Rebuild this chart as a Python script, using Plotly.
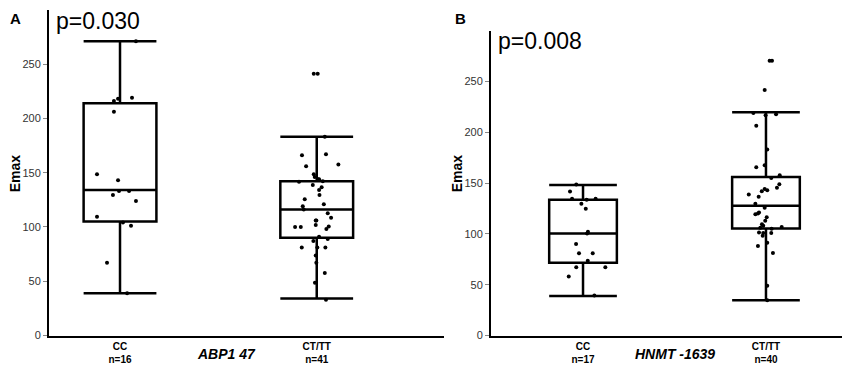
import plotly.graph_objects as go

W, H = 850, 366

# ---------------- data ----------------
categories = ["CC", "CT/TT"]
tick_text_A = ["CC<br>n=16", "CT/TT<br>n=41"]
tick_text_B = ["CC<br>n=17", "CT/TT<br>n=40"]
y_ticks = [0, 50, 100, 150, 200, 250]

# box stats: [lower whisker, Q1, median, Q3, upper whisker]
stats_A_CC = [39, 105, 134, 214, 271]
stats_A_CT = [34, 90, 116, 142, 183]
stats_B_CC = [39, 71.5, 100.3, 133.5, 148]
stats_B_CT = [34.6, 105.4, 127.7, 156, 219.6]

# individual points (Emax) and their horizontal jitter (category units)
A_CC_vals = [271, 216, 218, 219, 206, 148.5, 143, 133, 133, 129.5, 124, 109.5, 104, 101, 67, 39]
A_CC_jit = [0.081, -0.031, -0.010, 0.061, -0.031, -0.117, -0.010, -0.005, 0.046, -0.036,
            0.081, -0.117, 0.015, 0.056, -0.066, 0.036]

A_CT_vals = [241, 241, 183, 166, 167, 156, 157.6, 148.5, 146, 144, 144, 141.6, 142, 138.6,
             136.5, 134, 129.5, 125.6, 121, 119, 116, 112.6, 108.4, 106, 106, 101.7, 100.5,
             100, 100, 98, 91, 89, 87, 81, 81, 81, 73.6, 67, 57.7, 48.6, 33]
A_CT_jit = [-0.015, 0.005, 0.041, -0.075, 0.047, -0.054, 0.110, -0.015, -0.010, 0.007, 0.012,
            -0.090, 0.031, -0.020, 0.025, 0.012, 0.014, -0.061, 0.036, -0.071, -0.066, 0.056,
            0.073, -0.002, -0.005, -0.005, 0.061, -0.110, -0.081, 0.049, 0.012, 0.056, -0.017,
            -0.076, 0.003, 0.044, -0.005, -0.002, 0.041, -0.009, 0.047]

B_CC_vals = [148.7, 141.6, 134.5, 133.5, 134.5, 129.7, 124.8, 102.2, 100.3, 90, 81, 81, 73.7,
             67.3, 67.3, 58.2, 39.5]
B_CC_jit = [-0.037, -0.071, -0.060, 0.020, 0.069, -0.009, 0.015, 0.027, 0.022, -0.038, -0.022,
            0.053, 0.026, -0.037, 0.122, -0.078, 0.062]

B_CT_vals = [270.3, 270.3, 241.5, 219, 216.7, 217.6, 206.3, 183, 167.5, 165.6, 157.8, 155,
             148.8, 145.5, 144.2, 142.9, 142, 138.7, 136.5, 129.7, 125.8, 121, 120, 119.3,
             116.4, 112.9, 109.6, 108, 106, 106.7, 105, 101.3, 101, 101, 98.3, 88, 91.2, 81.2,
             48.9, 34.6]
B_CT_jit = [0.020, 0.033, -0.007, -0.069, -0.002, 0.055, -0.053, 0.007, -0.007, -0.053, 0.075,
            0.029, 0.073, 0.060, -0.007, 0.007, -0.023, -0.094, -0.040, -0.058, -0.007, -0.038,
            -0.044, -0.058, 0.004, -0.004, -0.022, -0.015, -0.031, 0.086, 0.031, -0.038, -0.015,
            0.029, -0.018, -0.044, 0.007, 0.038, 0.007, 0.007]

# ---------------- figure ----------------
FONT = "Arial, Liberation Sans, sans-serif"
fig = go.Figure()


def add_box(stats, pos, xa, ya):
    lo, q1, med, q3, hi = stats
    fig.add_trace(go.Box(
        x=[pos], q1=[q1], median=[med], q3=[q3], lowerfence=[lo], upperfence=[hi],
        width=0.37, whiskerwidth=1, boxpoints=False,
        line=dict(color="black", width=2.5), fillcolor="rgba(255,255,255,0)",
        xaxis=xa, yaxis=ya, showlegend=False, hoverinfo="skip"))


def add_points(vals, jit, pos, xa, ya):
    fig.add_trace(go.Scatter(
        x=[pos + j for j in jit], y=vals, mode="markers",
        marker=dict(color="black", size=4),
        xaxis=xa, yaxis=ya, showlegend=False, hoverinfo="skip"))


add_box(stats_A_CC, 0, "x", "y")
add_box(stats_A_CT, 1, "x", "y")
add_box(stats_B_CC, 0, "x2", "y2")
add_box(stats_B_CT, 1, "x2", "y2")
add_points(A_CC_vals, A_CC_jit, 0, "x", "y")
add_points(A_CT_vals, A_CT_jit, 1, "x", "y")
add_points(B_CC_vals, B_CC_jit, 0, "x2", "y2")
add_points(B_CT_vals, B_CT_jit, 1, "x2", "y2")

xcommon = dict(showgrid=False, zeroline=False, showline=True, linecolor="black", linewidth=2,
               ticks="", tickfont=dict(family=FONT, size=10, color="black"), fixedrange=True)
ycommon = dict(showgrid=False, zeroline=False, showline=True, linecolor="black", linewidth=2,
               ticks="outside", ticklen=4, tickcolor="#888", tickwidth=1,
               tickvals=y_ticks, tickfont=dict(family=FONT, size=11, color="#333"),
               range=[0, 300], fixedrange=True)


def bold_lines(t):
    return "<b>" + t.replace("<br>", "</b><br><b>") + "</b>"


fig.update_layout(
    width=W, height=H, margin=dict(l=0, r=0, t=0, b=0),
    paper_bgcolor="white", plot_bgcolor="white",
    xaxis=dict(xcommon, domain=[41 / W, 436 / W], range=[-0.361, 1.647],
               tickvals=[0, 1], ticktext=[bold_lines(t) for t in tick_text_A], anchor="y"),
    yaxis=dict(ycommon, domain=[1 - 333 / H, 1 - 1.8 / H], anchor="x"),
    xaxis2=dict(xcommon, domain=[483 / W, 1.0], range=[-0.503, 1.503],
                tickvals=[0, 1], ticktext=[bold_lines(t) for t in tick_text_B], anchor="y2"),
    yaxis2=dict(ycommon, domain=[1 - 333 / H, 1 - 23 / H], anchor="x2"),
)


def ann(text, px, py, size, bold=False, italic=False, angle=0, xanchor="center"):
    t = text
    if bold:
        t = "<b>" + t + "</b>"
    if italic:
        t = "<i>" + t + "</i>"
    fig.add_annotation(text=t, x=px / W, y=1 - py / H, xref="paper", yref="paper",
                       showarrow=False, xanchor=xanchor, yanchor="middle", textangle=angle,
                       font=dict(family=FONT, size=size, color="black"))


ann("A", 8, 11, 15, bold=True)
ann("B", 452, 11, 15, bold=True)
ann("p=0.030", 46, 13, 23, xanchor="left")
ann("p=0.008", 488, 34, 23, xanchor="left")
ann("Emax", 7, 168, 14, bold=True, angle=-90)
ann("Emax", 449, 168, 14, bold=True, angle=-90)
ann("ABP1 47", 218, 352, 14, bold=True, italic=True)
ann("HNMT -1639", 667, 352, 14, bold=True, italic=True)

fig.write_html("out.html")
